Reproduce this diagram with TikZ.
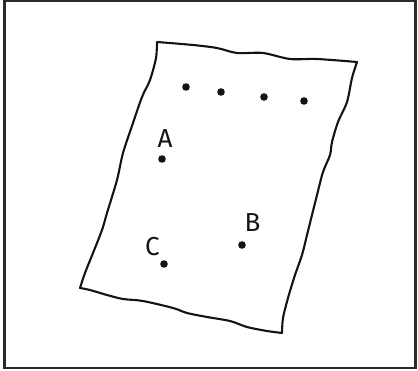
\documentclass[tikz,border=0pt]{standalone}
\usepackage{fontspec}
\setmainfont{Fira Sans}
\usepackage{xcolor}
\usepackage{tikz}
\usetikzlibrary{positioning}
\definecolor{ink}{HTML}{141414}
\definecolor{framegrey}{HTML}{2A2A2A}
\tikzset{
  pframe/.style={draw=framegrey, line width=2.8pt},
  pedge/.style={draw=ink, line width=2.1pt, line join=round, line cap=round},
  pdot/.style={circle, fill=ink, inner sep=0pt, minimum size=7.6pt},
  plabel/.style={inner sep=0pt, text=ink, font=\fontsize{26}{26}\selectfont},
}

\begin{document}
\begin{tikzpicture}[x=1pt, y=-1pt]
  \useasboundingbox (0,0) rectangle (418,371);
  \draw[pframe] (4.5,1) rectangle (415.5,368);
  % sheet of paper, wavy outline
  \draw[pedge] plot[smooth, tension=0.5] coordinates {(157,42) (193,45) (217,48) (237,53) (263,53) (290,59) (317,59) (357,62)}
    -- plot[smooth, tension=0.5] coordinates {(357,62) (352,78) (347,102) (338,122) (332,142) (330,155) (323,172) (317,195) (312,215) (307,235) (302,255) (295,275) (288,298) (283,318) (282,333)}
    -- plot[smooth, tension=0.5] coordinates {(282,333) (267,331) (247,327) (230,321) (207,317) (187,313) (173,308) (143,301) (123,299) (107,295) (90,290) (80,288)}
    -- plot[smooth, tension=0.5] coordinates {(80,288) (85,273) (93,253) (102,230) (107,213) (117,180) (123,153) (133,123) (142,97) (150,80) (156,58) (157,42)};
  % row of dots
  \node[pdot] (t1) at (186,87) {};
  \node[pdot] (t2) at (221,92) {};
  \node[pdot] (t3) at (264,97) {};
  \node[pdot] (t4) at (304,101) {};
  % labelled dots
  \node[pdot] (da) at (162,159) {};
  \node[pdot] (db) at (242,245) {};
  \node[pdot] (dc) at (164,264) {};
  \node[plabel, above=7pt of da, xshift=3pt] (la) {A};
  \node[plabel, above=9pt of db, xshift=10.5pt] (lb) {B};
  \node[plabel, above=3.5pt of dc, xshift=-11.5pt] (lc) {C};
\end{tikzpicture}
\end{document}
